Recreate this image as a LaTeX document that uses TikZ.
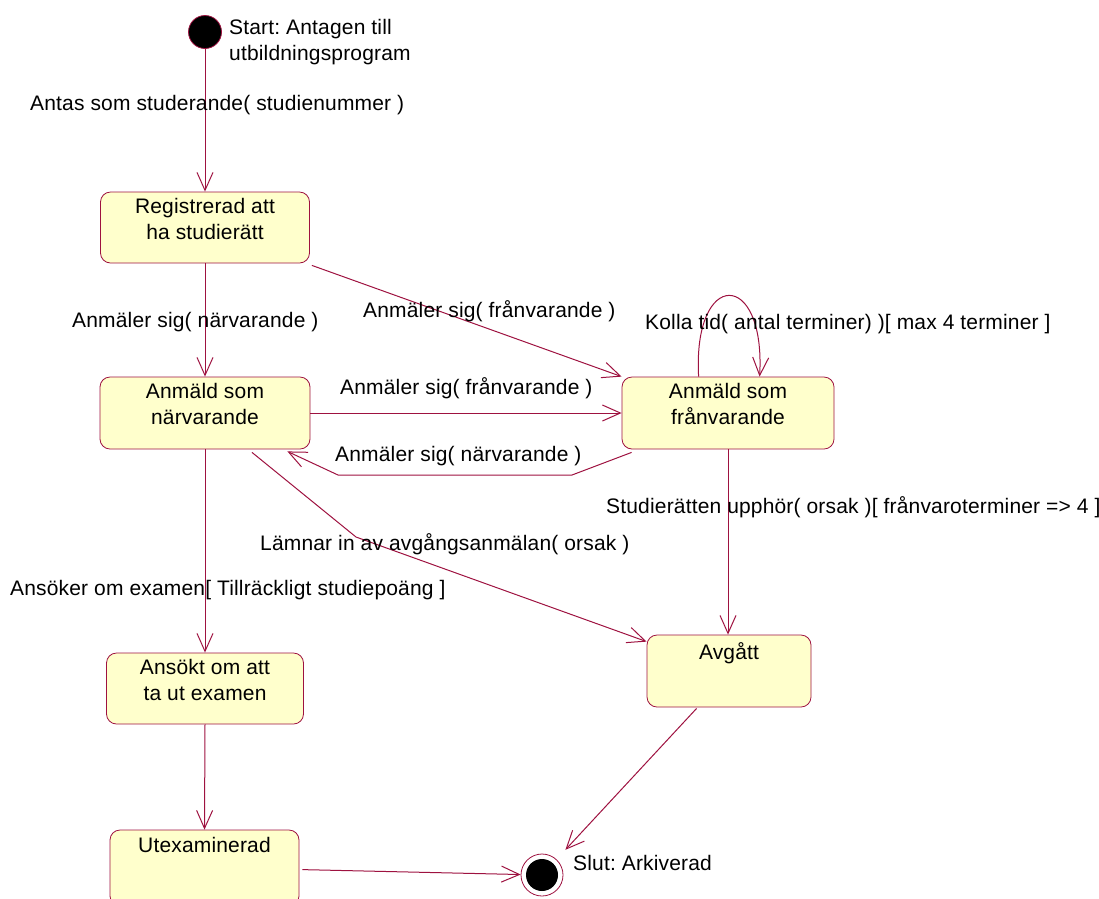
\documentclass[tikz,border=0pt]{standalone}
\usepackage{fontspec}
\setmainfont[LetterSpace=0.8]{Liberation Sans}
\usetikzlibrary{arrows.meta,calc}
\definecolor{umlline}{RGB}{158,18,64}
\definecolor{umlfill}{RGB}{255,255,204}
\frenchspacing
\begin{document}
\begin{tikzpicture}[x=1pt,y=-1pt,
  font=\fontsize{21}{26}\selectfont,
  stbox/.style={draw=umlline, line width=0.8pt, fill=umlfill, rounded corners=10pt, inner sep=0pt},
  sttext/.style={anchor=north, inner sep=0pt, align=center},
  tr/.style={draw=umlline, line width=1pt, -{Straight Barb[length=18pt,width=16pt,line width=1pt]}},
  lbl/.style={anchor=base west, inner sep=0pt}]
\useasboundingbox (0,0) rectangle (1099,898);
\clip (0,0) rectangle (1099,898);

% initial and final pseudo states
\node[circle, fill=black, draw=umlline, line width=0.8pt, minimum size=33pt, inner sep=0pt] (start) at (205,32) {};
\node[lbl, anchor=north west, align=left] (startlbl) at (229,19) {Start: Antagen till\\utbildningsprogram};
\node[circle, fill=white, draw=umlline, line width=0.8pt, minimum size=42pt, inner sep=0pt] (end) at (542,875) {};
\fill[black] (end.center) circle (16);
\node[lbl] (endlbl) at (573,870) {Slut: Arkiverad};

% states
\node[stbox, minimum width=209pt, minimum height=71pt] (reg) at (205,227.5) {};
\node[sttext] (regt) at ($(reg.north)+(0,6)$) {Registrerad att\\ha studierätt};
\node[stbox, minimum width=210pt, minimum height=72pt] (narv) at (205,413) {};
\node[sttext] (narvt) at ($(narv.north)+(0,6)$) {Anmäld som\\närvarande};
\node[stbox, minimum width=212pt, minimum height=72pt] (franv) at (728,413) {};
\node[sttext] (franvt) at ($(franv.north)+(0,6)$) {Anmäld som\\frånvarande};
\node[stbox, minimum width=197pt, minimum height=71pt] (ansokt) at (205,688.5) {};
\node[sttext] (ansoktt) at ($(ansokt.north)+(0,6)$) {Ansökt om att\\ta ut examen};
\node[stbox, minimum width=189pt, minimum height=76pt] (utex) at (204.5,868) {};
\node[sttext] (utext) at ($(utex.north)+(0,7)$) {Utexaminerad};
\node[stbox, minimum width=164pt, minimum height=72pt] (avg) at (729,671) {};
\node[sttext] (avgt) at ($(avg.north)+(0,8)$) {Avgått};

% transitions
\draw[tr] (start) -- (reg.north);
\node[lbl] (l1) at (30,110) {Antas som studerande( studienummer )};

\draw[tr] (reg.south) -- (narv.north);
\node[lbl] (l2) at (72,327) {Anmäler sig( närvarande )};

\draw[tr] ($(reg.south east)+(2,2)$) -- (franv.north west);
\node[lbl] (l3) at (363,317) {Anmäler sig( frånvarande )};

\draw[tr] ($(franv.north west)+(77,0)$) .. controls +(-6,-108) and +(6,-108) .. ($(franv.north west)+(138,0)$);
\node[lbl] (l4) at (645,329) {Kolla tid( antal terminer) )[ max 4 terminer ]};

\draw[tr] (narv.east) -- (franv.west);
\node[lbl] (l5) at (340,394) {Anmäler sig( frånvarande )};

\coordinate (b1) at (572,475);
\coordinate (b2) at (338,475);
\draw[tr] ($(franv.south west)+(10,3)$) -- (b1) -- (b2) -- ($(narv.south east)+(-23,2)$);
\node[lbl] (l6) at (335,461) {Anmäler sig( närvarande )};

\draw[tr] (franv.south) -- (franv.south |- avg.north);
\node[lbl] (l7) at (606,513) {Studierätten upphör( orsak )[ frånvaroterminer => 4 ]};

\coordinate (b3) at (356,537);
\draw[tr] ($(narv.south)+(47,3)$) -- (b3) -- ($(avg.north west)+(0,7)$);
\node[lbl] (l8) at (260,550) {Lämnar in av avgångsanmälan( orsak )};

\draw[tr] (narv.south) -- (ansokt.north);
\node[lbl] (l9) at (10,595) {Ansöker om examen[ Tillräckligt studiepoäng ]};

\draw[tr] (ansokt.south) -- (utex.north);
\draw[tr] ($(utex.north east)+(3,40)$) -- (end);
\draw[tr, shorten >=13pt] ($(avg.south west)+(50,1)$) -- (end);
\end{tikzpicture}
\end{document}
